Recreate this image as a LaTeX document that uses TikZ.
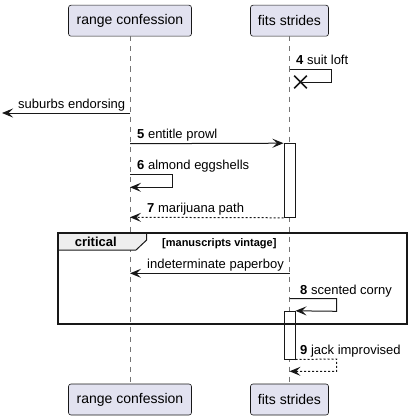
\documentclass[tikz,border=0pt]{standalone}
\usepackage{fontspec}
\setmainfont{Liberation Sans}
\usetikzlibrary{arrows.meta, shapes.misc}
\definecolor{partfill}{HTML}{E2E2F0}
\definecolor{partline}{HTML}{181818}
\definecolor{tabfill}{HTML}{EEEEEE}

\begin{document}
\begin{tikzpicture}[x=1pt, y=-1pt,
        part/.style={draw=partline, fill=partfill, rounded corners=2.5pt, line width=.6pt, minimum height=31pt, inner sep=0pt, font=\fontsize{14}{16}\selectfont},
        life/.style={partline!60, line width=.6pt, dash pattern=on 5pt off 5pt},
        msg/.style={partline, line width=1pt, -{Stealth[length=11pt, width=9pt, inset=4.5pt]}},
        ret/.style={msg, dash pattern=on 2pt off 2pt},
        lbl/.style={anchor=base west, inner sep=0pt, font=\fontsize{13}{15}\selectfont},
        actbox/.style={draw=partline, fill=white, line width=1pt, minimum width=11pt, inner sep=0pt}]
        \useasboundingbox (0, 0) rectangle (411, 420);
        \node[part, minimum width=123pt] (rcTop) at (130, 20.7) {range confession};
        \node[part, minimum width=78pt] (fsTop) at (289.5, 20.7) {fits strides};
        \node[part, minimum width=123pt] (rcBot) at (130, 399.5) {range confession};
        \node[part, minimum width=78pt] (fsBot) at (289.5, 399.5) {fits strides};
        \draw[life] (rcTop) -- (rcBot);
        \draw[life] (fsTop) -- (fsBot);
        \node[actbox, minimum height=73.6pt] (actA) at (289.5, 180.5) {};
        \node[actbox, minimum height=47.7pt] (actB) at (289.5, 335.15) {};
        %\draw[line width = 1pt] (289.5, 69) -- (331, 69);
        \coordinate (m4s) at (289.5, 69);
        \node[cross out, draw=partline, line width=1.6pt, minimum size=11pt, inner sep=0pt] (kill) at (300.5, 82) {};
        \draw[partline, line width=1pt] (m4s) -- (331, 69) -- (331, 82) -- (kill.center);
        \node[lbl] (l4) at (296, 65) {\textbf{4} suit loft};
        \coordinate (m0s) at (130, 113);
        \coordinate (m0e) at (2, 113);
        \draw[msg] (m0s) -- (m0e);
        \node[lbl] (l0) at (18, 108.5) {suburbs endorsing};
        \coordinate (m5s) at (130, 143.7);
        \draw[msg] (m5s) -- (actA.north west);
        \node[lbl] (l5) at (137, 138.5) {\textbf{5} entitle prowl};
        \coordinate (m6s) at (130, 174.3);
        \coordinate (m6e) at (130, 187.3);
        \draw[msg] (m6s) -- (172.7, 174.3) -- (172.7, 187.3) -- (m6e);
        \node[lbl] (l6) at (137, 169) {\textbf{6} almond eggshells};
        \coordinate (m7e) at (130, 217.3);
        \draw[ret] (actA.south west) -- (m7e);
        \node[lbl] (l7) at (147, 212) {\textbf{7} marijuana path};
        \draw[partline, fill=tabfill, line width=1pt] (58, 233) -- (146.7, 233) -- (146.7, 240) -- (136, 250) -- (58, 250);
        \draw[partline, line width=1.6pt] (58, 233) rectangle (407, 324);
        \node[font=\bfseries\fontsize{13}{15}\selectfont, inner sep=0pt] (grp) at (95.8, 241.5) {critical};
        \node[lbl, font=\bfseries\fontsize{11}{13}\selectfont] (guard) at (162, 246) {[manuscripts vintage]};
        \coordinate (mis) at (289.5, 273.3);
        \coordinate (mie) at (130, 273.3);
        \draw[msg] (mis) -- (mie);
        \node[lbl] (li) at (147, 268) {indeterminate paperboy};
        \coordinate (m8s) at (289.5, 298.7);
        \draw[msg] (m8s) -- (336.7, 298.7) -- (336.7, 311.3) -- (actB.north east);
        \node[lbl] (l8) at (300, 294) {\textbf{8} scented corny};
        \coordinate (m9e) at (289.5, 371.3);
        \draw[ret] (actB.south east) -- (336.7, 359) -- (336.7, 371.3) -- (m9e);
        \node[lbl] (l9) at (300, 354) {\textbf{9} jack improvised};
\end{tikzpicture}
\end{document}
